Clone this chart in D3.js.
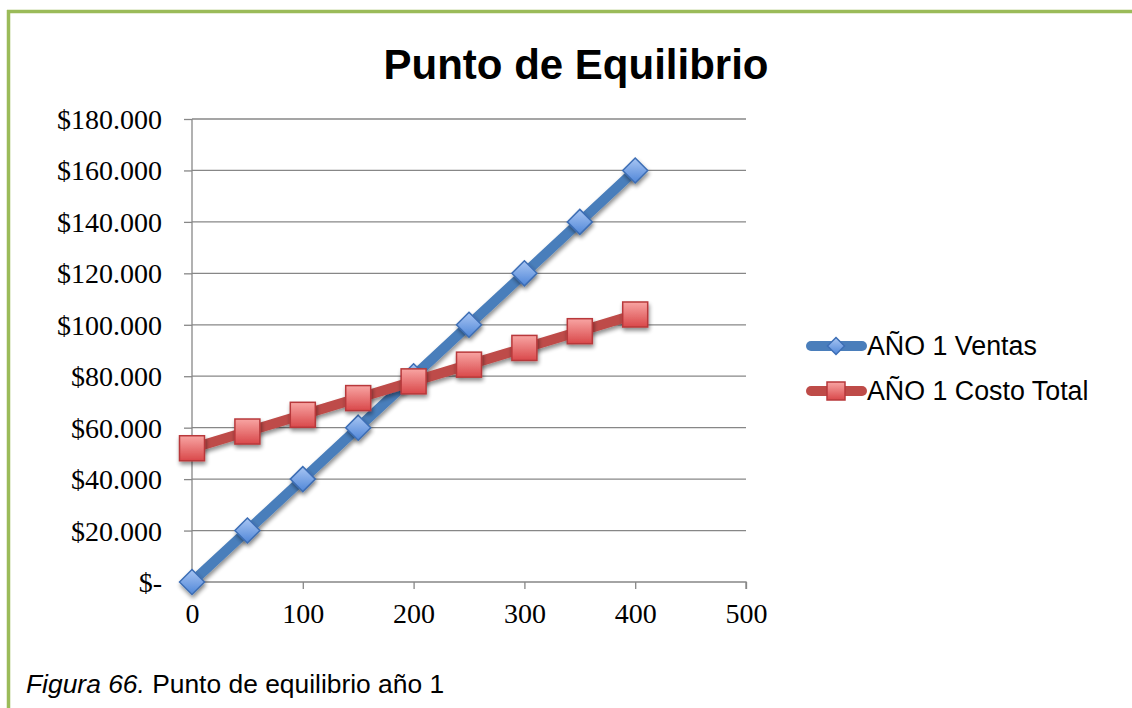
<!DOCTYPE html>
<html>
<head>
<meta charset="utf-8">
<script src="https://cdn.jsdelivr.net/npm/d3@7"></script>
<style>
  html, body { margin: 0; padding: 0; background: #ffffff; }
  svg { display: block; }
</style>
</head>
<body>
<svg id="chart" width="1132" height="708"></svg>
<script>
// Unidades vendidas (eje X)
const unidades = [0, 50, 100, 150, 200, 250, 300, 350, 400];
// Ingresos por ventas, año 1
const ventas = [0, 20000, 40000, 60000, 80000, 100000, 120000, 140000, 160000];
// Costo total (fijo + variable), año 1
const costoTotal = [52000, 58500, 65000, 71500, 78000, 84500, 91000, 97500, 104000];
// Marcas de los ejes
const xTicks = [0, 100, 200, 300, 400, 500];
const yTicks = [0, 20000, 40000, 60000, 80000, 100000, 120000, 140000, 160000, 180000];
const seriesNames = ["AÑO 1 Ventas", "AÑO 1 Costo Total"];

const svg = d3.select("#chart");
const defs = svg.append("defs");

// Gradients and shadow for the markers
const gBlue = defs.append("linearGradient").attr("id", "gBlue").attr("x1", 0).attr("y1", 0).attr("x2", 0).attr("y2", 1);
gBlue.append("stop").attr("offset", "0%").attr("stop-color", "#a9c6f3");
gBlue.append("stop").attr("offset", "100%").attr("stop-color", "#4f86d8");
const gRed = defs.append("linearGradient").attr("id", "gRed").attr("x1", 0).attr("y1", 0).attr("x2", 0).attr("y2", 1);
gRed.append("stop").attr("offset", "0%").attr("stop-color", "#f8a5a3");
gRed.append("stop").attr("offset", "100%").attr("stop-color", "#d9484a");
const sh = defs.append("filter").attr("id", "shadow").attr("x", "-50%").attr("y", "-50%").attr("width", "200%").attr("height", "200%");
sh.append("feGaussianBlur").attr("in", "SourceAlpha").attr("stdDeviation", 2).attr("result", "b");
sh.append("feOffset").attr("in", "b").attr("dx", 1).attr("dy", 3).attr("result", "o");
sh.append("feComponentTransfer").attr("in", "o").attr("result", "oa")
  .append("feFuncA").attr("type", "linear").attr("slope", 0.45);
const m = sh.append("feMerge");
m.append("feMergeNode").attr("in", "oa");
m.append("feMergeNode").attr("in", "SourceGraphic");

// Green frame (top and left)
svg.append("line").attr("x1", 7).attr("x2", 1132).attr("y1", 11.5).attr("y2", 11.5)
  .attr("stroke", "#9bbb59").attr("stroke-width", 3.5);
svg.append("line").attr("x1", 8.5).attr("x2", 8.5).attr("y1", 10).attr("y2", 708)
  .attr("stroke", "#9bbb59").attr("stroke-width", 3.5);

// Title
svg.append("text").attr("x", 576).attr("y", 79).attr("text-anchor", "middle")
  .attr("font-family", "Liberation Sans, Arial, sans-serif").attr("font-weight", "bold")
  .attr("font-size", 42).attr("fill", "#000").text("Punto de Equilibrio");

const x = d3.scaleLinear().domain([0, 500]).range([192, 746]);
const y = d3.scaleLinear().domain([0, 180000]).range([582, 119]);

const fmt = v => v === 0 ? "$-" : "$" + d3.format(",")(v).replace(/,/g, ".");

// Horizontal gridlines
svg.append("g").selectAll("line").data(yTicks.filter(d => d > 0)).join("line")
  .attr("x1", 192).attr("x2", 746).attr("y1", d => y(d)).attr("y2", d => y(d))
  .attr("stroke", "#878787").attr("stroke-width", 1.3);

// Y axis
const yAxis = svg.append("g").attr("transform", "translate(192,0)")
  .call(d3.axisLeft(y).tickValues(yTicks).tickFormat(fmt).tickSize(8).tickPadding(22));
// X axis
const xAxis = svg.append("g").attr("transform", "translate(0,582)")
  .call(d3.axisBottom(x).tickValues(xTicks).tickSize(7).tickPadding(14));

[yAxis, xAxis].forEach(a => {
  a.select(".domain").attr("stroke", "#878787").attr("stroke-width", 1.3);
  a.selectAll(".tick line").attr("stroke", "#878787").attr("stroke-width", 1.3);
  a.selectAll("text").attr("font-family", "Liberation Serif, Cambria, serif")
    .attr("font-size", 28).attr("fill", "#000");
});
yAxis.select(".domain").attr("d", "M0,119V582");
xAxis.selectAll(".tick line").filter(d => d === 0).remove();
xAxis.select(".domain").attr("d", "M192,0H746V7");
yAxis.selectAll("text").attr("dy", "0.34em");

const line = d3.line().x(d => x(d[0])).y(d => y(d[1]));
const ventasPts = unidades.map((u, i) => [u, ventas[i]]);
const costoPts = unidades.map((u, i) => [u, costoTotal[i]]);

function diamond(g, cx, cy, r) {
  g.append("path").attr("d", `M${cx},${cy - r}L${cx + r},${cy}L${cx},${cy + r}L${cx - r},${cy}Z`)
    .attr("fill", "url(#gBlue)").attr("stroke", "#3d6eb5").attr("stroke-width", 1.5);
}
function square(g, cx, cy, s) {
  g.append("rect").attr("x", cx - s / 2).attr("y", cy - s / 2).attr("width", s).attr("height", s)
    .attr("fill", "url(#gRed)").attr("stroke", "#b8393b").attr("stroke-width", 1.5);
}

// Ventas line and markers
svg.append("path").datum(ventasPts).attr("d", line).attr("fill", "none")
  .attr("stroke", "#4a7ebb").attr("stroke-width", 10).attr("stroke-linejoin", "round")
  .attr("filter", "url(#shadow)");
const vm = svg.append("g").attr("filter", "url(#shadow)");
ventasPts.forEach(p => diamond(vm, x(p[0]), y(p[1]), 12.5));

// Costo total line and markers
svg.append("path").datum(costoPts).attr("d", line).attr("fill", "none")
  .attr("stroke", "#be4b48").attr("stroke-width", 10).attr("stroke-linejoin", "round")
  .attr("filter", "url(#shadow)");
const cm = svg.append("g").attr("filter", "url(#shadow)");
costoPts.forEach(p => square(cm, x(p[0]), y(p[1]), 25));

// Legend
const legendY = [346, 391];
const leg = svg.append("g");
seriesNames.forEach((name, i) => {
  const ly = legendY[i];
  leg.append("line").attr("x1", 811).attr("x2", 862).attr("y1", ly).attr("y2", ly)
    .attr("stroke", i === 0 ? "#4a7ebb" : "#be4b48").attr("stroke-width", 10).attr("stroke-linecap", "round");
  if (i === 0) diamond(leg, 836, ly, 8.5);
  else square(leg, 836, ly, 18);
  leg.append("text").attr("x", 867).attr("y", ly + 9)
    .attr("font-family", "Liberation Sans, Arial, sans-serif").attr("font-size", 26.8)
    .attr("fill", "#000").text(name);
});

// Caption
const cap = svg.append("text").attr("x", 26).attr("y", 693)
  .attr("font-family", "Liberation Sans, Arial, sans-serif").attr("font-size", 26.4).attr("fill", "#000");
cap.append("tspan").attr("font-style", "italic").text("Figura 66.");
cap.append("tspan").text(" Punto de equilibrio año 1");
</script>
</body>
</html>
